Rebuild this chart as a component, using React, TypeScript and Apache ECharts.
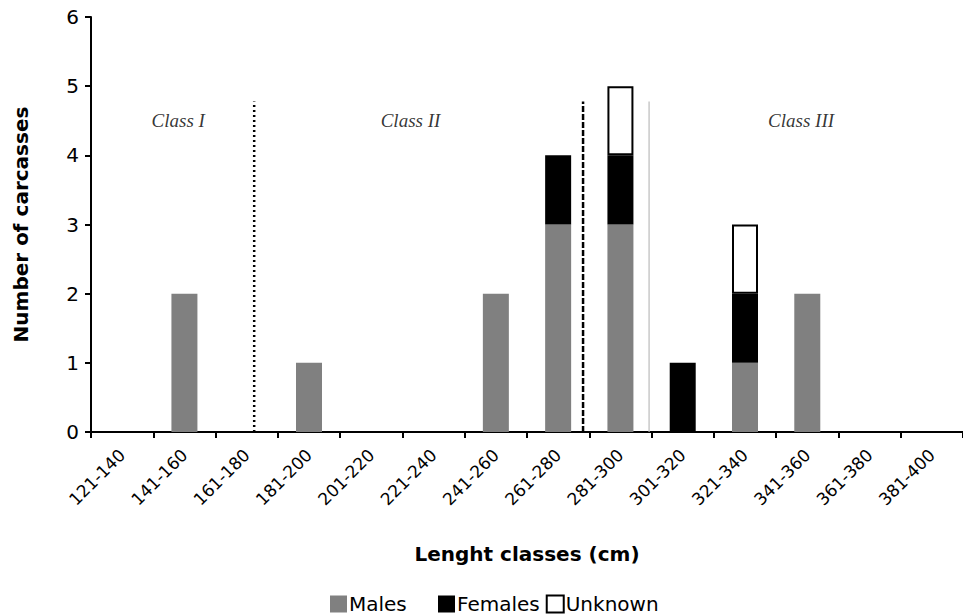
import React, { useEffect, useRef } from "react";
import * as echarts from "echarts";

const categories = [
  "121-140", "141-160", "161-180", "181-200", "201-220", "221-240", "241-260",
  "261-280", "281-300", "301-320", "321-340", "341-360", "361-380", "381-400",
];
const males = [0, 2, 0, 1, 0, 0, 2, 3, 3, 0, 1, 2, 0, 0];
const females = [0, 0, 0, 0, 0, 0, 0, 1, 1, 1, 1, 0, 0, 0];
const unknown = [0, 0, 0, 0, 0, 0, 0, 0, 1, 0, 1, 0, 0, 0];
const yTicks = [0, 1, 2, 3, 4, 5, 6];
// class boundary lines, in category units along the axis (0 = left edge)
const boundaryDotted = [[2.62, 0], [2.62, 4.78]];
const boundaryDashed = [[7.9, 0], [7.9, 4.78]];
const boundaryGray = [[8.96, 0], [8.96, 4.78]];
const classLabels = [
  { name: "Class I", x: 1.4, y: 4.5 },
  { name: "Class II", x: 5.13, y: 4.5 },
  { name: "Class III", x: 11.4, y: 4.5 },
];

const nz = (arr: number[]) => arr.map((v) => (v === 0 ? "-" : v));

export default function App() {
  const ref = useRef<HTMLDivElement>(null);
  useEffect(() => {
    if (!ref.current) return;
    const chart = echarts.init(ref.current, null, { renderer: "svg" });
    const font = "DejaVu Sans";
    const legendText = { fontFamily: font, fontSize: 20, color: "#000", padding: [0, 0, 0, -3] };
    chart.setOption({
      animation: false,
      backgroundColor: "#fff",
      legend: [
        {
          data: ["Males"],
          left: 330,
          top: 594,
          padding: 0,
          icon: "rect",
          itemWidth: 17,
          itemHeight: 17,
          itemGap: 4,
          textStyle: legendText,
        },
        {
          data: ["Females", "Unknown"],
          left: 438,
          top: 594,
          padding: 0,
          icon: "rect",
          itemWidth: 17,
          itemHeight: 17,
          itemGap: 6,
          textStyle: legendText,
        },
      ],
      grid: { left: 91, top: 17, width: 882, height: 415, containLabel: false },
      xAxis: [
        {
          type: "category",
          data: categories,
          name: "Lenght classes (cm)",
          nameLocation: "middle",
          nameGap: 112,
          nameTextStyle: { fontFamily: font, fontWeight: "bold", fontSize: 20, color: "#000" },
          axisLine: { lineStyle: { color: "#000", width: 2 } },
          axisTick: { show: true, length: 6, lineStyle: { color: "#000", width: 2 } },
          axisLabel: {
            rotate: 45,
            interval: 0,
            margin: 20,
            fontFamily: font,
            fontSize: 17,
            color: "#000",
          },
        },
        { type: "value", min: 0, max: 14, show: false },
      ],
      yAxis: {
        type: "value",
        min: yTicks[0],
        max: yTicks[yTicks.length - 1],
        interval: 1,
        name: "Number of carcasses",
        nameLocation: "middle",
        nameRotate: 90,
        nameGap: 60,
        nameTextStyle: { fontFamily: font, fontWeight: "bold", fontSize: 20, color: "#000" },
        axisLine: { show: true, lineStyle: { color: "#000", width: 2 } },
        axisTick: { show: true, length: 6, lineStyle: { color: "#000", width: 2 } },
        splitLine: { show: false },
        axisLabel: { fontFamily: font, fontSize: 20, color: "#000", margin: 12 },
      },
      series: [
        {
          name: "Males",
          type: "bar",
          stack: "s",
          data: nz(males),
          barWidth: 26,
          itemStyle: { color: "#808080" },
        },
        {
          name: "Females",
          type: "bar",
          stack: "s",
          data: nz(females),
          barWidth: 26,
          itemStyle: { color: "#000" },
        },
        {
          name: "Unknown",
          type: "bar",
          stack: "s",
          data: nz(unknown),
          barWidth: 26,
          itemStyle: { color: "#fff", borderColor: "#000", borderWidth: 2 },
        },
        {
          type: "line",
          xAxisIndex: 1,
          data: boundaryDotted,
          symbol: "none",
          lineStyle: { color: "#000", width: 2.5, type: [2, 3] },
          silent: true,
        },
        {
          type: "line",
          xAxisIndex: 1,
          data: boundaryDashed,
          symbol: "none",
          lineStyle: { color: "#000", width: 2.5, type: [6, 2] },
          silent: true,
        },
        {
          type: "line",
          xAxisIndex: 1,
          data: boundaryGray,
          symbol: "none",
          lineStyle: { color: "#bbb", width: 1.2 },
          silent: true,
        },
        {
          type: "scatter",
          xAxisIndex: 1,
          symbolSize: 0,
          data: classLabels.map((c) => ({ name: c.name, value: [c.x, c.y] })),
          label: {
            show: true,
            position: "inside",
            formatter: "{b}",
            fontFamily: "Liberation Serif",
            fontStyle: "italic",
            fontSize: 19,
            color: "#000",
          },
          silent: true,
        },
      ],
    });
    return () => chart.dispose();
  }, []);
  return <div ref={ref} style={{ width: 963, height: 616, position: "absolute", left: 0, top: 0 }} />;
}
